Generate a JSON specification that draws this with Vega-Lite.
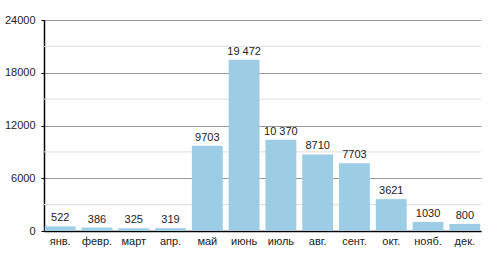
{
  "$schema": "https://vega.github.io/schema/vega-lite/v6.json",
  "width": 437,
  "height": 211,
  "autosize": "none",
  "padding": {"left": 44, "top": 20, "right": 19, "bottom": 39},
  "background": "white",
  "config": {
    "font": "Liberation Sans",
    "view": {"stroke": null}
  },
  "data": {
    "values": [
      {"month": "янв.", "value": 522, "label": "522"},
      {"month": "февр.", "value": 386, "label": "386"},
      {"month": "март", "value": 325, "label": "325"},
      {"month": "апр.", "value": 319, "label": "319"},
      {"month": "май", "value": 9703, "label": "9703"},
      {"month": "июнь", "value": 19472, "label": "19 472"},
      {"month": "июль", "value": 10370, "label": "10 370"},
      {"month": "авг.", "value": 8710, "label": "8710"},
      {"month": "сент.", "value": 7703, "label": "7703"},
      {"month": "окт.", "value": 3621, "label": "3621"},
      {"month": "нояб.", "value": 1030, "label": "1030"},
      {"month": "дек.", "value": 800, "label": "800"}
    ]
  },
  "layer": [
    {
      "mark": {"type": "rule", "color": "#dddddd", "strokeWidth": 1},
      "data": {"values": [{"g": 3000}, {"g": 9000}, {"g": 15000}, {"g": 21000}]},
      "encoding": {
        "y": {
          "field": "g",
          "type": "quantitative",
          "scale": {"domain": [0, 24000], "nice": false},
          "axis": {
            "title": null,
            "values": [0, 3000, 6000, 9000, 12000, 15000, 18000, 21000, 24000],
            "labelExpr": "datum.value % 6000 == 0 ? datum.value : ''",
            "format": "d",
            "labelFontSize": 11,
            "labelColor": "#222",
            "labelPadding": 6,
            "tickSize": 3,
            "tickColor": "#000",
            "domainColor": "#000",
            "domainWidth": 1.5,
            "grid": true,
            "gridColor": {"condition": {"test": "datum.value % 6000 == 0", "value": "#999"}, "value": "rgba(0,0,0,0)"},
            "gridWidth": 1.2
          }
        }
      }
    },
    {
      "mark": {"type": "bar", "color": "#9dcde5"},
      "encoding": {
        "x": {
          "field": "month",
          "type": "nominal",
          "sort": null,
          "scale": {"paddingInner": 0.16, "paddingOuter": 0.02},
          "axis": {
            "title": null,
            "labelAngle": 0,
            "labelFontSize": 11,
            "labelColor": "#222",
            "labelPadding": 4,
            "ticks": false,
            "domainColor": "#000",
            "domainWidth": 1.5
          }
        },
        "y": {"field": "value", "type": "quantitative"}
      }
    },
    {
      "mark": {"type": "text", "dy": -8, "fontSize": 11, "color": "#222"},
      "encoding": {
        "x": {"field": "month", "type": "nominal", "sort": null},
        "y": {"field": "value", "type": "quantitative"},
        "text": {"field": "label"}
      }
    }
  ]
}
